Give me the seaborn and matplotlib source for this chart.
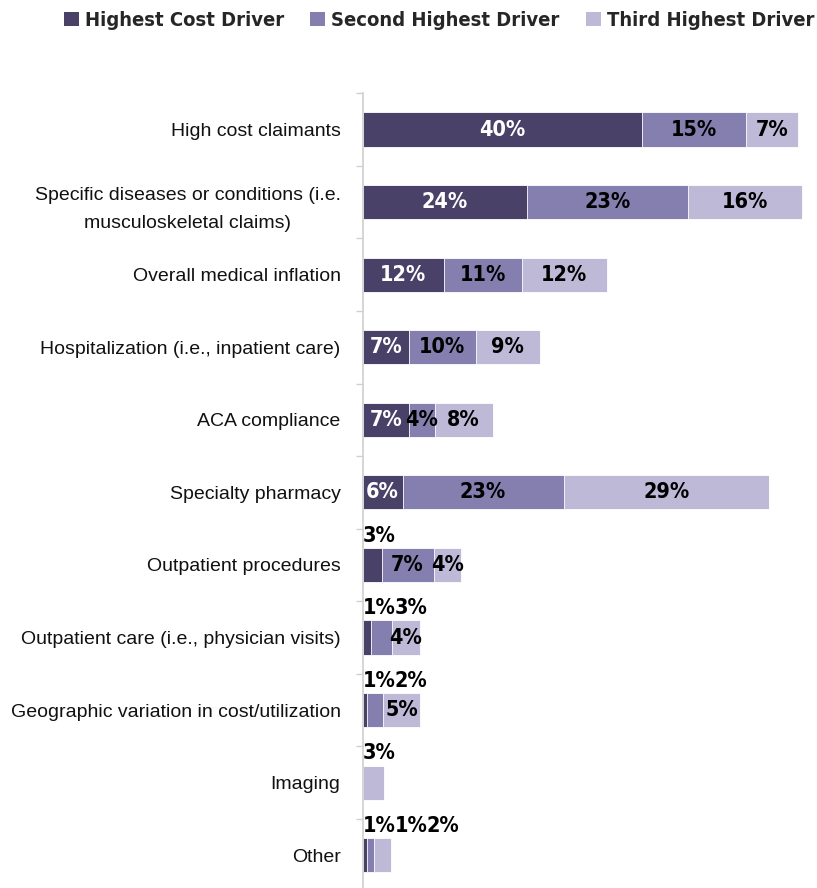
import matplotlib
matplotlib.use("Agg")
import matplotlib.pyplot as plt
from matplotlib import font_manager
from matplotlib.patches import Patch
import seaborn as sns
import numpy as np
import pandas as pd

categories = [
    "High cost claimants",
    "Specific diseases or conditions (i.e.\nmusculoskeletal claims)",
    "Overall medical inflation",
    "Hospitalization (i.e., inpatient care)",
    "ACA compliance",
    "Specialty pharmacy",
    "Outpatient procedures",
    "Outpatient care (i.e., physician visits)",
    "Geographic variation in cost/utilization",
    "Imaging",
    "Other",
]
highest = [40, 23.6, 11.6, 6.6, 6.6, 5.7, 2.7, 1.25, 0.6, 0, 0.6]
second = [14.9, 23.0, 11.2, 9.6, 3.7, 23.1, 7.45, 2.9, 2.25, 0, 1.05]
third = [7.45, 16.4, 12.2, 9.2, 8.3, 29.49, 4.0, 4.0, 5.4, 3.0, 2.4]
series_names = ["Highest Cost Driver", "Second Highest Driver", "Third Highest Driver"]
colors = ["#4a4168", "#857fb0", "#bdb9d6"]

sns.set_theme(style="white")
avail = {f.name for f in font_manager.fontManager.ttflist}
regular = "Liberation Sans" if "Liberation Sans" in avail else "DejaVu Sans"
plt.rcParams["font.family"] = [regular, "DejaVu Sans"]
narrow_kw = dict(family=["DejaVu Sans"], stretch="condensed", weight="bold")

fig = plt.figure(figsize=(8.17, 8.88), dpi=100)
ax = fig.add_axes([0.444, -0.004, 0.55, 0.899])

df = pd.DataFrame({"cat": categories, "a": highest, "b": second, "c": third})
df["ab"] = df["a"] + df["b"]
df["abc"] = df["ab"] + df["c"]

bw = 0.47
sns.barplot(data=df, y="cat", x="abc", color=colors[2], orient="h", width=bw,
            saturation=1, ax=ax, edgecolor="white", linewidth=0.6)
sns.barplot(data=df, y="cat", x="ab", color=colors[1], orient="h", width=bw,
            saturation=1, ax=ax, edgecolor="white", linewidth=0.6)
sns.barplot(data=df, y="cat", x="a", color=colors[0], orient="h", width=bw,
            saturation=1, ax=ax, edgecolor="white", linewidth=0.6)

ax.set_xlim(0, 64.4)
ax.set_ylim(len(categories) - 0.5, -0.5)
ax.set_xlabel("")
ax.set_ylabel("")
ax.set_xticks([])
ax.set_yticks(range(len(categories)))
ax.set_yticklabels(categories, fontsize=14, multialignment="center", color="#111111",
                   linespacing=1.8)
ax.tick_params(axis="y", which="major", length=0, pad=16)
ax.set_yticks(np.arange(-0.5, len(categories)), minor=True)
ax.tick_params(axis="y", which="minor", length=5, width=1, color="#d0d0d0", left=True)
for s in ["top", "right", "bottom"]:
    ax.spines[s].set_visible(False)
ax.spines["left"].set_color("#d0d0d0")
ax.spines["left"].set_linewidth(1.2)

label_fs = 15.5
for i in range(len(categories)):
    vals = [highest[i], second[i], third[i]]
    start = 0.0
    prev_end = 0.0
    for j, v in enumerate(vals):
        if v <= 0:
            start += v
            continue
        lab = f"{int(round(v))}%"
        if v >= 3.5:
            ax.text(start + v / 2, i, lab, ha="center", va="center",
                    fontsize=label_fs, color="white" if j == 0 else "black", **narrow_kw)
        else:
            x0 = max(start, prev_end)
            t = ax.text(x0, i - bw / 2 - 0.03, lab, ha="left", va="bottom",
                        fontsize=label_fs, color="black", **narrow_kw)
            fig.canvas.draw()
            bb = t.get_window_extent().transformed(ax.transData.inverted())
            prev_end = bb.x1 - 0.15
        start += v

handles = [Patch(facecolor=c, edgecolor="none") for c in colors]
fig.legend(handles, series_names, loc="center left", bbox_to_anchor=(0.078, 0.977), ncol=3,
           frameon=False, handlelength=0.75, handleheight=0.75, handletextpad=0.3,
           columnspacing=1.3, borderpad=0, borderaxespad=0,
           prop={"family": ["DejaVu Sans"], "stretch": "condensed", "weight": "bold", "size": 14.5})

fig.savefig("out.png", dpi=100)
